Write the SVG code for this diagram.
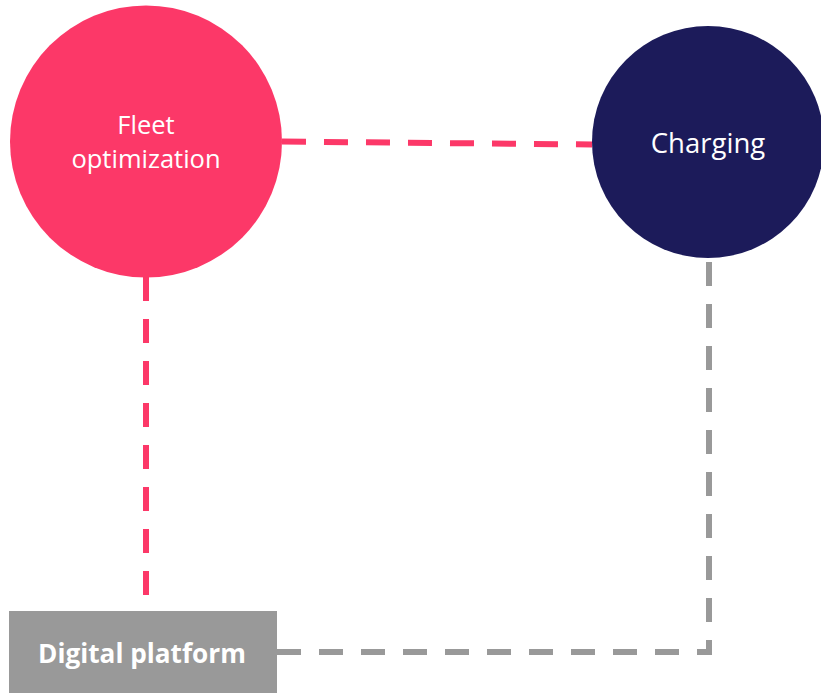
<svg xmlns="http://www.w3.org/2000/svg" width="821" height="693" viewBox="0 0 821 693">
<style>
.lbl{font-family:"Open Sans","Liberation Sans",sans-serif;fill:#ffffff;text-anchor:middle}
.dash{fill:none;stroke-width:6;stroke-dasharray:24 18}
.pink{stroke:#fc3868}
.gray{stroke:#999999}
</style>
<rect width="821" height="693" fill="#ffffff"/>
<g id="connectors">
<path class="dash pink" d="M282 141.5 L592 144.5"/>
<path class="dash pink" d="M146 277 L146 597"/>
<path class="dash gray" d="M277 652 L709 652 L709 258"/>
</g>
<g id="fleet">
<circle cx="146" cy="141.5" r="136" fill="#fc3868"/>
<text class="lbl" x="146" y="134" font-size="25.5">Fleet</text>
<text class="lbl" x="146" y="168" font-size="25.5">optimization</text>
</g>
<g id="charging">
<circle cx="708" cy="142" r="116" fill="#1c1b5a"/>
<text class="lbl" x="708" y="153" font-size="27.5">Charging</text>
</g>
<g id="platform">
<rect x="9" y="611" width="268" height="82" fill="#999999"/>
<text class="lbl" x="142" y="663" font-size="26.2" font-weight="bold">Digital platform</text>
</g>
</svg>
